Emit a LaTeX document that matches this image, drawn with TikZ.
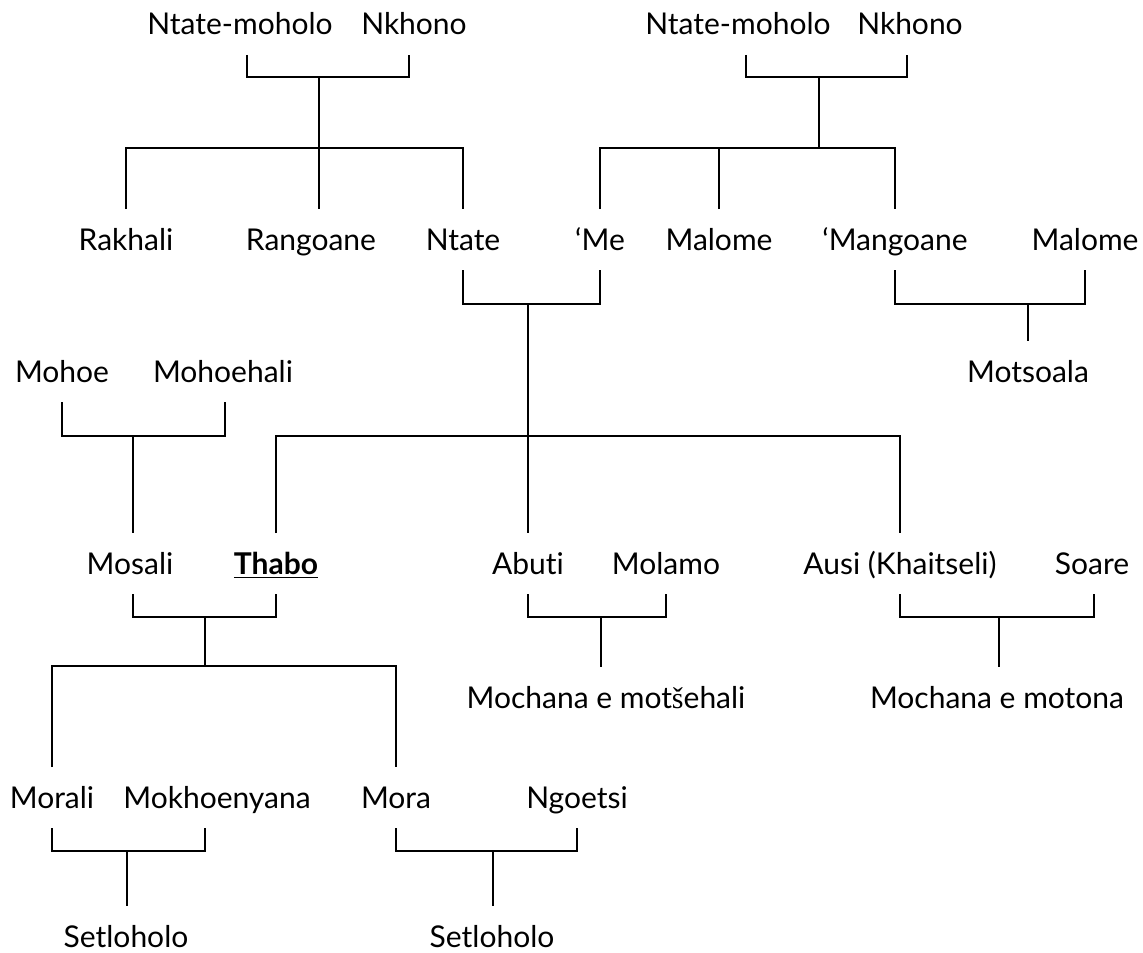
\documentclass[tikz,border=0pt]{standalone}
\usepackage{fontspec}
\setmainfont{Lato}[Ligatures=NoCommon]
\newfontfamily\caronfont{Liberation Serif}
\usetikzlibrary{positioning}
\tikzset{
	every path/.style={line width=1.1pt},
	kin/.style={anchor=base, inner sep=0pt, outer ysep=10pt, text height=10.5pt, text depth=0pt, font=\fontsize{15}{18}\selectfont},
}

\begin{document}
\begin{tikzpicture}[x=0.5pt,y=-0.5pt]
	\useasboundingbox (0,0) rectangle (1143,952);

	% grandparents, father's side..............
	\node [kin] (ntatemoholoA) at (240,35) {Ntate-moholo};
	\node [kin] (nkhonoA) at (414,35) {Nkhono};

	% grandparents, mother's side..............
	\node [kin] (ntatemoholoB) at (738,35) {Ntate-moholo};
	\node [kin] (nkhonoB) at (910,35) {Nkhono};

	% parents and their siblings...............
	\node [kin] (rakhali) at (126,250) {Rakhali};
	\node [kin] (rangoane) at (311,250) {Rangoane};
	\node [kin] (ntate) at (463,250) {Ntate};
	\node [kin] (me) at (600,250) {‘Me};
	\node [kin] (malomeA) at (719,250) {Malome};
	\node [kin] (mangoane) at (895,250) {‘Mangoane};
	\node [kin] (malomeB) at (1085,250) {Malome};
	\node [kin] (motsoala) at (1028,382) {Motsoala};

	% in-laws..................................
	\node [kin] (mohoe) at (62,382) {Mohoe};
	\node [kin] (mohoehali) at (223,382) {Mohoehali};

	% Thabo and his siblings...................
	\node [kin] (mosali) at (130,574) {Mosali};
	\node [kin] (thabo) at (276,574) {\underline{\textbf{Thabo}}};
	\node [kin] (abuti) at (528,574) {Abuti};
	\node [kin] (molamo) at (666,574) {Molamo};
	\node [kin] (ausi) at (900,574) {Ausi (Khaitseli)};
	\node [kin] (soare) at (1092,574) {Soare};
	\node [kin] (mochanaA) at (606,708) {Mochana e mot{\caronfont š}ehali};
	\node [kin] (mochanaB) at (997,708) {Mochana e motona};

	% children and grandchildren...............
	\node [kin] (morali) at (52,808) {Morali};
	\node [kin] (mokhoenyana) at (217,808) {Mokhoenyana};
	\node [kin] (mora) at (396,808) {Mora};
	\node [kin] (ngoetsi) at (577,808) {Ngoetsi};
	\node [kin] (setlohoA) at (126,947) {Setloholo};
	\node [kin] (setlohoB) at (492,947) {Setloholo};

	% junctions................................
	\coordinate (gpA) at (319,77);
	\coordinate (sibA) at (319,148);
	\coordinate (gpB) at (819,77);
	\coordinate (sibB) at (819,148);
	\coordinate (parents) at (528,304);
	\coordinate (kids) at (528,436);
	\coordinate (aunt) at (1028,304);
	\coordinate (inlaws) at (133,436);
	\coordinate (couple) at (205,617);
	\coordinate (grandkids) at (205,666);
	\coordinate (brother) at (601,617);
	\coordinate (sister) at (999,617);
	\coordinate (daughter) at (127,851);
	\coordinate (son) at (493,851);

	% father's family..........................
	\draw ([xshift=3.5pt]ntatemoholoA.south) |- (gpA) -| ([xshift=-2.5pt]nkhonoA.south);
	\draw (gpA) -- (gpA |- rangoane.north);
	\draw (rakhali.north) |- (sibA) -| (ntate.north);

	% mother's family..........................
	\draw ([xshift=4pt]ntatemoholoB.south) |- (gpB) -| ([xshift=-1.5pt]nkhonoB.south);
	\draw (gpB) -- (sibB);
	\draw (me.north) |- (sibB) -| (mangoane.north);
	\draw (malomeA.north) -- (malomeA.north |- sibB);
	\draw (mangoane.south) |- (aunt) -| (malomeB.south);
	\draw (aunt) -- (aunt |- motsoala.north);

	% parents and their children...............
	\draw (ntate.south) |- (parents) -| (me.south);
	\draw (parents) -- (parents |- abuti.north);
	\draw (thabo.north) |- (kids) -| (ausi.north);

	% in-laws..................................
	\draw (mohoe.south) |- (inlaws) -| ([xshift=1pt]mohoehali.south);
	\draw (inlaws) -- (inlaws |- mosali.north);

	% Thabo's family...........................
	\draw ([xshift=1.5pt]mosali.south) |- (couple) -| (thabo.south);
	\draw (couple) -- (grandkids);
	\draw (morali.north) |- (grandkids) -| (mora.north);
	\draw (morali.south) |- (daughter) -| ([xshift=-6pt]mokhoenyana.south);
	\draw (daughter) -- (daughter |- setlohoA.north);
	\draw (mora.south) |- (son) -| (ngoetsi.south);
	\draw (son) -- (son |- setlohoB.north);

	% brother and sister.......................
	\draw (abuti.south) |- (brother) -| (molamo.south);
	\draw (brother) -- (brother |- mochanaA.north);
	\draw (ausi.south) |- (sister) -| ([xshift=1pt]soare.south);
	\draw (sister) -- (sister |- mochanaB.north);
\end{tikzpicture}
\end{document}
